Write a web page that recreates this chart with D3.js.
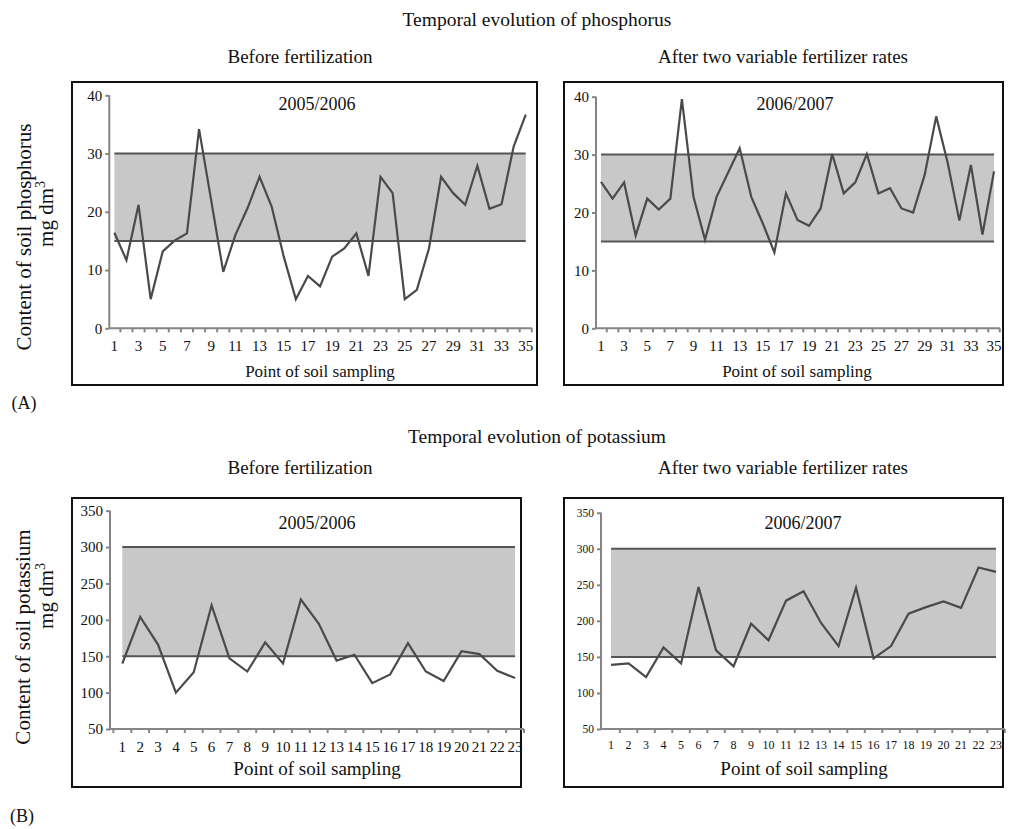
<!DOCTYPE html>
<html>
<head>
<meta charset="utf-8">
<script src="https://cdnjs.cloudflare.com/ajax/libs/d3/7.8.5/d3.min.js"></script>
<style>
  html, body { margin: 0; padding: 0; background: #fff; }
  svg { display: block; font-family: "Liberation Serif", "DejaVu Serif", serif; }
</style>
</head>
<body>
<svg id="chart" width="1014" height="829"></svg>
<script>
// Sampling points
const phosPoints = [1,2,3,4,5,6,7,8,9,10,11,12,13,14,15,16,17,18,19,20,21,22,23,24,25,26,27,28,29,30,31,32,33,34,35];
const potPoints = [1,2,3,4,5,6,7,8,9,10,11,12,13,14,15,16,17,18,19,20,21,22,23];

// Soil phosphorus (mg dm-3)
const phosBefore = [16.4, 11.7, 21.2, 5.0, 13.2, 15.1, 16.3, 34.2, 22.0, 9.7, 16.0, 20.6, 26.0, 20.9, 12.3, 5.0, 9.0, 7.2, 12.3, 13.7, 16.3, 9.0, 26.0, 23.2, 5.0, 6.6, 13.7, 26.0, 23.2, 21.2, 27.9, 20.5, 21.3, 31.2, 36.7];
const phosAfter = [25.3, 22.4, 25.2, 16.0, 22.4, 20.5, 22.4, 39.6, 22.7, 15.3, 22.7, 26.9, 31.1, 22.7, 18.1, 13.1, 23.3, 18.7, 17.7, 20.7, 30.1, 23.3, 25.2, 30.1, 23.3, 24.2, 20.7, 20.0, 26.5, 36.6, 28.5, 18.6, 28.2, 16.2, 27.1];

// Soil potassium (mg dm-3)
const potBefore = [140, 204, 166, 100, 128, 220, 147, 129, 169, 140, 228, 195, 144, 152, 113, 125, 168, 129, 116, 157, 153, 130, 120];
const potAfter = [139, 141, 122, 163, 141, 247, 159, 137, 196, 173, 228, 241, 197, 165, 246, 148, 165, 210, 219, 227, 218, 274, 268];

// Adequate ranges
const phosRange = [15, 30];
const potRange = [150, 300];

// Axis ticks
const phosYTicks = [0, 10, 20, 30, 40];
const potYTicks = [50, 100, 150, 200, 250, 300, 350];
const phosXLabels = [1,3,5,7,9,11,13,15,17,19,21,23,25,27,29,31,33,35];

const svg = d3.select("#chart");
const INK = "#4a4a4a";
const AXIS = "#858585";

function panel(o) {
  const g = svg.append("g");
  // frame
  g.append("rect")
    .attr("x", o.box[0]).attr("y", o.box[1])
    .attr("width", o.box[2] - o.box[0]).attr("height", o.box[3] - o.box[1])
    .attr("fill", "none").attr("stroke", "#111").attr("stroke-width", 2);

  const y = d3.scaleLinear().domain(o.yDomain).range(o.yPix);
  const x = d3.scaleBand().domain(o.points).range(o.xPix).paddingInner(0).paddingOuter(0);
  const cx = d => x(d) + x.bandwidth() / 2;
  const first = cx(o.points[0]), last = cx(o.points[o.points.length - 1]);

  // adequate range band
  g.append("rect")
    .attr("x", first).attr("width", last - first)
    .attr("y", y(o.range[1])).attr("height", y(o.range[0]) - y(o.range[1]))
    .attr("fill", "#c8c8c8");
  o.range.forEach(v => {
    g.append("line")
      .attr("x1", first).attr("x2", last)
      .attr("y1", y(v)).attr("y2", y(v))
      .attr("stroke", "#555").attr("stroke-width", 2);
  });

  // y axis
  const ya = g.append("g").attr("transform", `translate(${o.axisX},0)`)
    .call(d3.axisLeft(y).tickValues(o.yTicks).tickSize(4).tickPadding(3).tickFormat(d3.format("d")));
  ya.select(".domain").attr("stroke", AXIS).attr("stroke-width", 2)
    .attr("d", `M0,${o.yPix[0]}V${o.yPix[1]}`);
  ya.selectAll(".tick line").attr("stroke", AXIS).attr("stroke-width", 2);
  ya.selectAll(".tick text").attr("fill", "#111").style("font-size", o.yFont + "px")
    .style("font-family", "Liberation Serif");

  // x axis
  const y0 = o.yPix[0];
  g.append("line").attr("x1", o.axisX).attr("x2", o.xPix[1])
    .attr("y1", y0).attr("y2", y0).attr("stroke", AXIS).attr("stroke-width", 2);
  const bounds = o.points.map(d => x(d)).concat([o.xPix[1]]).filter(v => v > o.axisX + 3);
  g.selectAll(null).data(bounds).enter().append("line")
    .attr("x1", d => d).attr("x2", d => d)
    .attr("y1", y0).attr("y2", y0 + 4)
    .attr("stroke", AXIS).attr("stroke-width", 2);
  const xa = g.append("g").attr("transform", `translate(0,${y0})`)
    .call(d3.axisBottom(x).tickValues(o.xLabels).tickSize(0).tickPadding(o.xPad));
  xa.select(".domain").remove();
  xa.selectAll(".tick text").attr("fill", "#111").style("font-size", o.xFont + "px")
    .style("font-family", "Liberation Serif");

  // series
  g.append("path").datum(o.values.map((v, i) => [cx(o.points[i]), y(v)]))
    .attr("d", d3.line())
    .attr("fill", "none").attr("stroke", INK).attr("stroke-width", 2.2)
    .attr("stroke-linejoin", "miter");

  // season label
  g.append("text").attr("x", o.seasonPos[0]).attr("y", o.seasonPos[1])
    .attr("text-anchor", "middle").style("font-size", "18px").attr("fill", "#111")
    .text(o.season);
  // x title
  g.append("text").attr("x", o.xTitlePos[0]).attr("y", o.xTitlePos[1])
    .attr("text-anchor", "middle").style("font-size", o.xTitleFont + "px").attr("fill", "#111")
    .text("Point of soil sampling");
}

function centerText(x, yy, txt, size) {
  svg.append("text").attr("x", x).attr("y", yy).attr("text-anchor", "middle")
    .style("font-size", size + "px").attr("fill", "#111").text(txt);
}

function yTitle(x1, x2, cy1, cy2, nutrient) {
  svg.append("text").attr("transform", `translate(${x1},${cy1}) rotate(-90)`)
    .attr("text-anchor", "middle").style("font-size", "21px").attr("fill", "#111")
    .text("Content of soil " + nutrient);
  const t = svg.append("text").attr("transform", `translate(${x2},${cy2}) rotate(-90)`)
    .attr("text-anchor", "middle").style("font-size", "21px").attr("fill", "#111");
  t.append("tspan").text("mg dm");
  t.append("tspan").attr("dy", -8).style("font-size", "14px").text("3");
}

// (A) phosphorus
centerText(537, 26, "Temporal evolution of phosphorus", 19.5);
centerText(300, 63, "Before fertilization", 19);
centerText(783, 63, "After two variable fertilizer rates", 19);
yTitle(31, 53, 237, 214, "phosphorus");

panel({
  box: [72, 82, 537, 385], axisX: 109.3, xPix: [108.3, 531.8], yPix: [328.3, 95.3],
  yDomain: [0, 40], yTicks: phosYTicks, points: phosPoints, xLabels: phosXLabels,
  values: phosBefore, range: phosRange, yFont: 15, xFont: 15, xPad: 12,
  season: "2005/2006", seasonPos: [317, 110], xTitlePos: [320, 377], xTitleFont: 17
});
panel({
  box: [564, 82, 1003, 385], axisX: 596, xPix: [595.2, 999.8], yPix: [328.3, 96.7],
  yDomain: [0, 40], yTicks: phosYTicks, points: phosPoints, xLabels: phosXLabels,
  values: phosAfter, range: phosRange, yFont: 15, xFont: 15, xPad: 12,
  season: "2006/2007", seasonPos: [795, 110], xTitlePos: [797, 377], xTitleFont: 17
});
centerText(24, 409, "(A)", 18);

// (B) potassium
centerText(537, 443, "Temporal evolution of potassium", 19.5);
centerText(300, 474, "Before fertilization", 19);
centerText(783, 474, "After two variable fertilizer rates", 19);
yTitle(30, 53, 637, 596, "potassium");

panel({
  box: [72, 498, 521, 787], axisX: 110, xPix: [113.4, 524.0], yPix: [729, 510.7],
  yDomain: [50, 350], yTicks: potYTicks, points: potPoints, xLabels: potPoints,
  values: potBefore, range: potRange, yFont: 15, xFont: 15, xPad: 12,
  season: "2005/2006", seasonPos: [317, 529], xTitlePos: [317, 775], xTitleFont: 19
});
panel({
  box: [564, 498, 1003, 787], axisX: 601, xPix: [602.3, 1004.8], yPix: [729, 512.7],
  yDomain: [50, 350], yTicks: potYTicks, points: potPoints, xLabels: potPoints,
  values: potAfter, range: potRange, yFont: 11.5, xFont: 12, xPad: 11,
  season: "2006/2007", seasonPos: [803, 529], xTitlePos: [804, 775], xTitleFont: 19
});
centerText(22, 822, "(B)", 18);
</script>
</body>
</html>
